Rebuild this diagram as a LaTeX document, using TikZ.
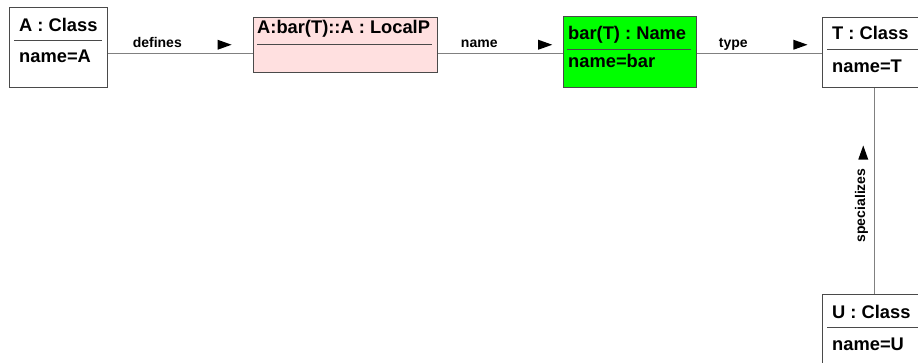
\documentclass[tikz,border=0pt]{standalone}
\usepackage{fontspec}
\setmainfont{Liberation Sans}
\usepackage{xcolor}
\definecolor{boxline}{HTML}{4a4a4a}
\definecolor{connline}{HTML}{808080}
\definecolor{localpink}{HTML}{FFE0E0}
\definecolor{namegreen}{HTML}{00FF00}
\usepackage{tikz}
\usetikzlibrary{
  positioning,
  shapes.geometric
}

\begin{document}
\begin{tikzpicture}[
  x=1pt, y=-1pt,
  objbox/.style={rectangle, draw=boxline, line width=1pt, anchor=north west, inner sep=0pt},
  hdr/.style={anchor=base west, inner sep=0pt, font=\fontsize{18.3}{20}\selectfont\bfseries},
  attr/.style={anchor=base west, inner sep=0pt, font=\fontsize{18.3}{20}\selectfont\bfseries},
  sepline/.style={draw=boxline, line width=0.9pt},
  conn/.style={draw=connline, line width=1pt},
  lbl/.style={inner sep=0pt, text height=10pt, text depth=3pt, font=\fontsize{14}{16}\selectfont\bfseries},
  dirtip/.style={isosceles triangle, isosceles triangle stretches, fill=black, inner sep=0pt,
    minimum width=10pt, minimum height=14pt},
]
\useasboundingbox (0,0) rectangle (918,363);
\clip (0,0) rectangle (918,363);

% objects
\node[objbox, minimum width=98pt, minimum height=80pt] (a) at (9,7) {};
\node[hdr] (ahd) at (19,32) {A : Class};
\draw[sepline] (14,40) -- (102,40);
\node[attr] (aat) at (19,63) {name=A};

\node[objbox, fill=localpink, minimum width=184pt, minimum height=55pt] (lp) at (253,17) {};
\node[hdr] (lphd) at (257,34) {A:bar(T)::A : LocalP};
\draw[sepline] (257,44) -- (432,44);

\node[objbox, fill=namegreen, minimum width=133pt, minimum height=71pt] (nm) at (563,16) {};
\node[hdr] (nmhd) at (568,40) {bar(T) : Name};
\draw[sepline] (567,49) -- (691,49);
\node[attr] (nmat) at (568,68) {name=bar};

\node[objbox, minimum width=104pt, minimum height=70pt] (t) at (822,17) {};
\node[hdr] (thd) at (832,40) {T : Class};
\draw[sepline] (827,49) -- (921,49);
\node[attr] (tat) at (832,73) {name=T};

\node[objbox, minimum width=104pt, minimum height=70pt] (u) at (822,294) {};
\node[hdr] (uhd) at (832,318) {U : Class};
\draw[sepline] (827,327) -- (921,327);
\node[attr] (uat) at (832,350) {name=U};

% links
\coordinate (rail) at (0,54);
\draw[conn] (a.east |- rail) -- node[lbl, pos=0.34, above=3pt] {defines}
  node[dirtip, pos=0.78, above=5pt] {} (lp.west |- rail);
\draw[conn] (lp.east |- rail) -- node[lbl, pos=0.33, above=3pt] {name}
  node[dirtip, pos=0.83, above=5pt] {} (nm.west |- rail);
\draw[conn] (nm.east |- rail) -- node[lbl, pos=0.29, above=3pt] {type}
  node[dirtip, pos=0.80, above=5pt] {} (t.west |- rail);
\draw[conn] (u.north) -- node[lbl, pos=0.43, left=6pt, rotate=90, anchor=south] {specializes}
  node[dirtip, pos=0.67, left=7pt, shape border rotate=90] {} (t.south);

\end{tikzpicture}
\end{document}
